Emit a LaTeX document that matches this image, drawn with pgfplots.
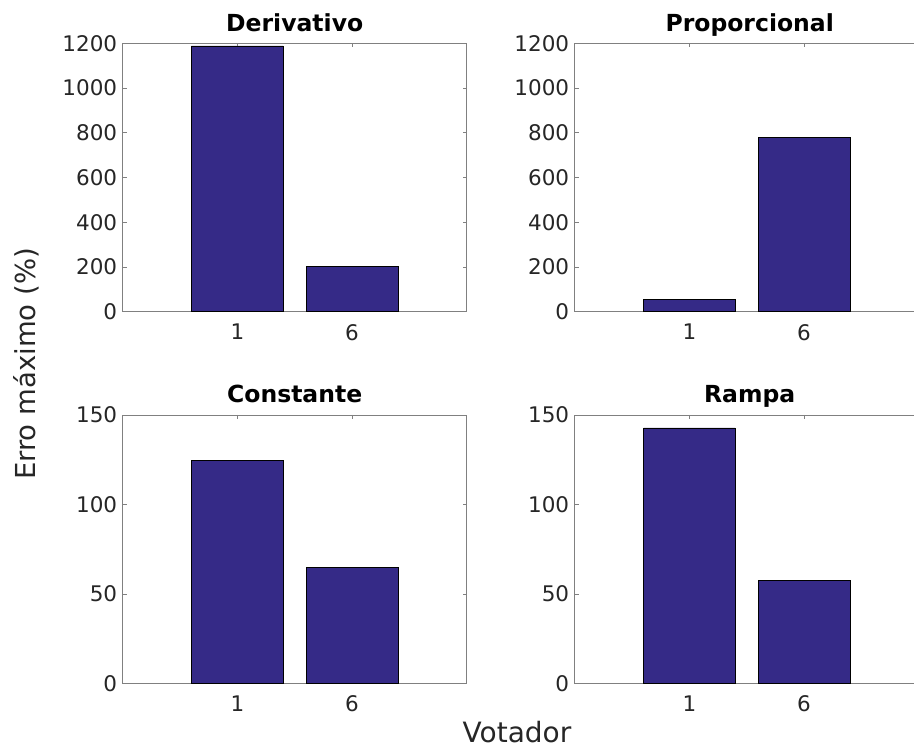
\documentclass[border=0pt]{standalone}
\usepackage{fontspec}
\setmainfont{DejaVu Sans}
\usepackage{pgfplots}
\pgfplotsset{compat=1.18}
\definecolor{barc}{RGB}{53,42,135}
\definecolor{axc}{RGB}{128,128,128}
\definecolor{txtc}{RGB}{38,38,38}
\pgfplotsset{
 mybar/.style={
  width=344pt, height=268.4pt, scale only axis,
  anchor=south west,
  ybar,
  xmin=0, xmax=3, ymin=0,
  xtick={1,2}, xticklabels={1,6},
  tick pos=both, tick align=inside, major tick length=4pt,
  axis line style={axc, line width=0.6pt},
  tick style={axc, line width=0.6pt},
  ticklabel style={font=\fontsize{21.5}{25}\selectfont, text=txtc},
  /pgf/number format/assume math mode=true,
  xticklabel style={yshift=-9pt},
  yticklabel style={/pgf/number format/1000 sep={}, xshift=-2pt},
  scaled y ticks=false,
  title style={font=\fontsize{23.5}{28}\selectfont\bfseries, at={(0.5,1)}, anchor=base, yshift=6pt},
 },
 rightax/.style={width=350pt, xmax=3.0523},
 mybars/.style={fill=barc, draw=black, line width=0.5pt, bar width=0.8},
}
\begin{document}
\begin{tikzpicture}
\useasboundingbox (0pt,0pt) rectangle (914pt,749pt);
\clip (0pt,0pt) rectangle (914pt,749pt);
\begin{axis}[mybar, at={(122.7pt,437.3pt)}, ymax=1200, ytick={0,200,...,1200}, title={Derivativo}]
\addplot[mybars] coordinates {(1,1188) (2,202)};
\end{axis}
\begin{axis}[mybar, rightax, at={(574.7pt,437.3pt)}, ymax=1200, ytick={0,200,...,1200}, title={Proporcional}]
\addplot[mybars] coordinates {(1,55) (2,781)};
\end{axis}
\begin{axis}[mybar, at={(122.7pt,65.7pt)}, ymax=150, ytick={0,50,100,150}, title={Constante}]
\addplot[mybars] coordinates {(1,124.7) (2,64.7)};
\end{axis}
\begin{axis}[mybar, rightax, at={(574.7pt,65.7pt)}, ymax=150, ytick={0,50,100,150}, title={Rampa}]
\addplot[mybars] coordinates {(1,142.7) (2,57.4)};
\end{axis}
\node[rotate=90, anchor=base, font=\fontsize{27.5}{33}\selectfont, text=txtc] at (35pt,385pt) {Erro máximo (\%)};
\node[anchor=base, font=\fontsize{28}{34}\selectfont, text=txtc] at (517pt,6pt) {Votador};
\end{tikzpicture}
\end{document}
